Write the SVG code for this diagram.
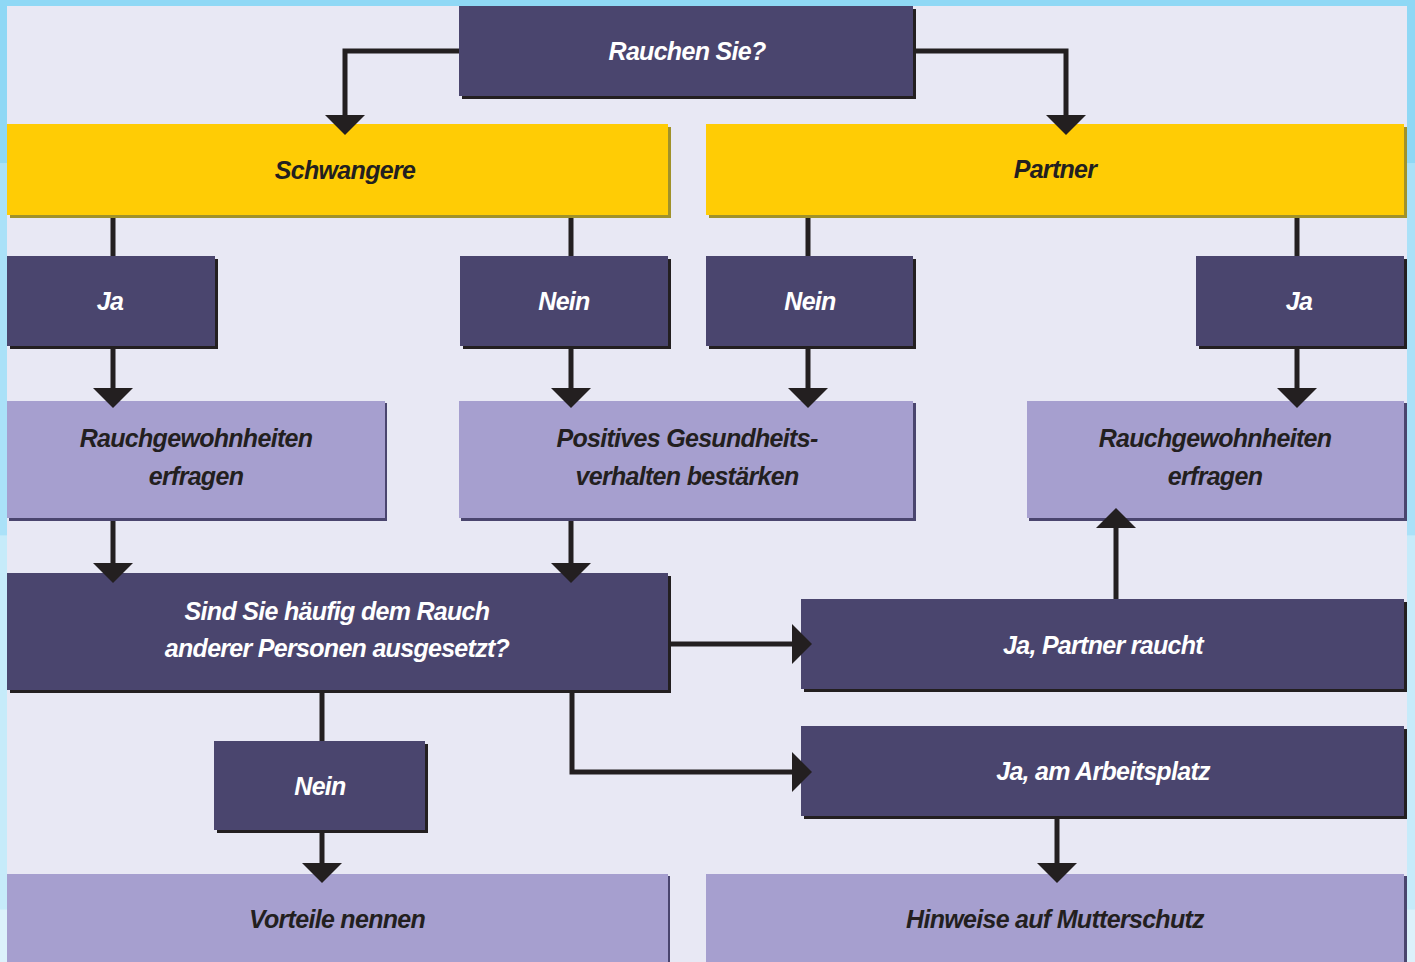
<svg xmlns="http://www.w3.org/2000/svg" width="1415" height="962" viewBox="0 0 1415 962">
<defs>
<linearGradient id="edge" x1="0" y1="0" x2="0" y2="962" gradientUnits="userSpaceOnUse">
<stop offset="0" stop-color="#8fd8f5"/><stop offset="0.169" stop-color="#8fd8f5"/>
<stop offset="0.170" stop-color="#aae1f8"/><stop offset="0.556" stop-color="#aae1f8"/>
<stop offset="0.557" stop-color="#c6ebfa"/><stop offset="0.945" stop-color="#c6ebfa"/>
<stop offset="0.946" stop-color="#dcf1fb"/><stop offset="1" stop-color="#dcf1fb"/>
</linearGradient>
<marker id="ah" viewBox="0 0 20 40" markerWidth="20" markerHeight="40" refX="0" refY="20" orient="auto" markerUnits="userSpaceOnUse">
<path d="M0,0 L20,20 L0,40 Z" fill="#231f20"/>
</marker>
</defs>
<style>
.dk{fill:#4a456e}.dks{fill:#231f20}
.lt{fill:#a69fcf}.lts{fill:#4a456e}
.ye{fill:#ffcc05}.yes{fill:#a0922a}
text{font-family:"Liberation Sans",Arial,sans-serif;font-weight:bold;font-style:italic;font-size:25px;text-anchor:middle;letter-spacing:-0.7px}
.w{fill:#ffffff}.b{fill:#231f20}
.c{fill:none;stroke:#231f20;stroke-width:5}
</style>
<rect x="0" y="0" width="1415" height="962" fill="url(#edge)"/>
<rect x="0" y="0" width="1415" height="6" fill="#8fd8f5"/>
<rect x="7" y="6" width="1400" height="956" fill="#e8e8f4"/>

<g id="n-rauchen"><rect class="dks" x="462" y="9" width="454" height="90"/><rect class="dk" x="459" y="6" width="454" height="90"/><text class="w" x="687" y="60">Rauchen Sie?</text></g>

<g id="n-schwangere"><rect class="yes" x="10" y="127" width="661" height="91"/><rect class="ye" x="7" y="124" width="661" height="91"/><text class="b" x="345" y="179">Schwangere</text></g>
<g id="n-partner"><rect class="yes" x="709" y="127" width="698" height="91"/><rect class="ye" x="706" y="124" width="698" height="91"/><text class="b" x="1055" y="178">Partner</text></g>

<g id="n-ja1"><rect class="dks" x="10" y="259" width="208" height="90"/><rect class="dk" x="7" y="256" width="208" height="90"/><text class="w" x="110" y="310">Ja</text></g>
<g id="n-nein1"><rect class="dks" x="463" y="259" width="208" height="90"/><rect class="dk" x="460" y="256" width="208" height="90"/><text class="w" x="564" y="310">Nein</text></g>
<g id="n-nein2"><rect class="dks" x="709" y="259" width="207" height="90"/><rect class="dk" x="706" y="256" width="207" height="90"/><text class="w" x="810" y="310">Nein</text></g>
<g id="n-ja2"><rect class="dks" x="1199" y="259" width="208" height="90"/><rect class="dk" x="1196" y="256" width="208" height="90"/><text class="w" x="1299" y="310">Ja</text></g>

<g id="n-rauchgew1"><rect class="lts" x="9" y="403" width="378" height="118"/><rect class="lt" x="7" y="401" width="378" height="117"/><text class="b" x="196" y="447">Rauchgewohnheiten</text><text class="b" x="196" y="485">erfragen</text></g>
<g id="n-positives"><rect class="lts" x="461" y="403" width="455" height="118"/><rect class="lt" x="459" y="401" width="454" height="117"/><text class="b" x="687" y="447">Positives Gesundheits-</text><text class="b" x="687" y="485">verhalten bestärken</text></g>
<g id="n-rauchgew2"><rect class="lts" x="1029" y="403" width="378" height="118"/><rect class="lt" x="1027" y="401" width="377" height="117"/><text class="b" x="1215" y="447">Rauchgewohnheiten</text><text class="b" x="1215" y="485">erfragen</text></g>

<g id="n-sindsie"><rect class="dks" x="10" y="576" width="661" height="117"/><rect class="dk" x="7" y="573" width="661" height="117"/><text class="w" x="337" y="620">Sind Sie häufig dem Rauch</text><text class="w" x="337" y="657">anderer Personen ausgesetzt?</text></g>

<g id="n-partnerraucht"><rect class="dks" x="804" y="602" width="603" height="90"/><rect class="dk" x="801" y="599" width="603" height="90"/><text class="w" x="1103" y="654">Ja, Partner raucht</text></g>
<g id="n-arbeitsplatz"><rect class="dks" x="804" y="729" width="603" height="90"/><rect class="dk" x="801" y="726" width="603" height="90"/><text class="w" x="1103" y="780">Ja, am Arbeitsplatz</text></g>

<g id="n-nein3"><rect class="dks" x="217" y="744" width="211" height="89"/><rect class="dk" x="214" y="741" width="211" height="89"/><text class="w" x="320" y="795">Nein</text></g>

<g id="n-vorteile"><rect class="lts" x="9" y="876" width="661" height="90"/><rect class="lt" x="7" y="874" width="661" height="90"/><text class="b" x="337" y="928">Vorteile nennen</text></g>
<g id="n-hinweise"><rect class="lts" x="708" y="876" width="699" height="90"/><rect class="lt" x="706" y="874" width="698" height="90"/><text class="b" x="1055" y="928">Hinweise auf Mutterschutz</text></g>

<g id="connectors">
<path class="c" d="M459,51 H345 V115" marker-end="url(#ah)"/>
<path class="c" d="M916,51 H1066 V115" marker-end="url(#ah)"/>
<path class="c" d="M113,218 V256"/>
<path class="c" d="M571,218 V256"/>
<path class="c" d="M808,218 V256"/>
<path class="c" d="M1297,218 V256"/>
<path class="c" d="M113,349 V388" marker-end="url(#ah)"/>
<path class="c" d="M571,349 V388" marker-end="url(#ah)"/>
<path class="c" d="M808,349 V388" marker-end="url(#ah)"/>
<path class="c" d="M1297,349 V388" marker-end="url(#ah)"/>
<path class="c" d="M113,521 V563" marker-end="url(#ah)"/>
<path class="c" d="M571,521 V563" marker-end="url(#ah)"/>
<path class="c" d="M671,644 H792" marker-end="url(#ah)"/>
<path class="c" d="M572,693 V772 H792" marker-end="url(#ah)"/>
<path class="c" d="M322,693 V741"/>
<path class="c" d="M322,833 V863" marker-end="url(#ah)"/>
<path class="c" d="M1116,599 V528" marker-end="url(#ah)"/>
<path class="c" d="M1057,819 V863" marker-end="url(#ah)"/>
</g>
</svg>
